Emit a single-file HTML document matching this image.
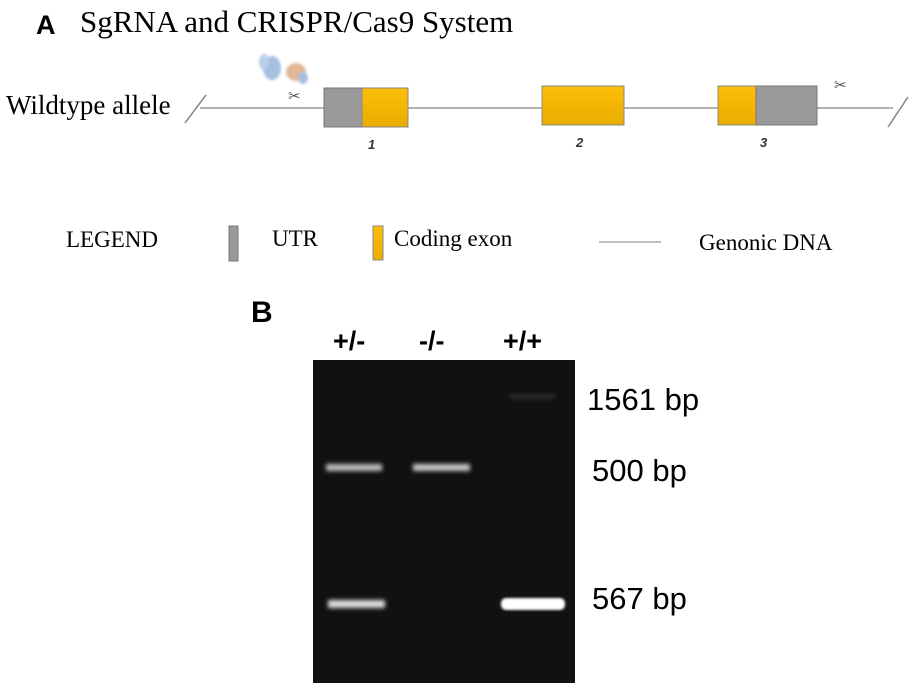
<!DOCTYPE html>
<html><head><style>
body{margin:0;background:#fff;width:914px;height:687px;overflow:hidden}
</style></head><body>
<svg width="914" height="687" xmlns="http://www.w3.org/2000/svg">
<defs>
<filter id="b1"><feGaussianBlur stdDeviation="2"/></filter>
<filter id="b2"><feGaussianBlur stdDeviation="1.2"/></filter>
<clipPath id="gel"><rect x="313" y="360" width="262" height="323"/></clipPath>
<linearGradient id="yg" x1="0" y1="0" x2="0" y2="1"><stop offset="0" stop-color="#fdbf08"/><stop offset="1" stop-color="#e9ad00"/></linearGradient>
</defs>
<text x="36" y="34" font-family="Liberation Sans, sans-serif" font-weight="bold" font-size="27">A</text>
<text x="80" y="32" font-family="Liberation Serif, serif" font-size="31">SgRNA and CRISPR/Cas9 System</text>
<text x="6" y="114" font-family="Liberation Serif, serif" font-size="27">Wildtype allele</text>
<line x1="200" y1="108" x2="893" y2="108" stroke="#999" stroke-width="1.5"/>
<line x1="185" y1="123" x2="206" y2="95" stroke="#888" stroke-width="1.5"/>
<line x1="888" y1="127" x2="908" y2="97" stroke="#888" stroke-width="1.5"/>
<rect x="324" y="88" width="38" height="39" fill="#9a9a9a" stroke="#777"/>
<rect x="362" y="88" width="46" height="39" fill="url(#yg)" stroke="#888"/>
<rect x="542" y="86" width="82" height="39" fill="url(#yg)" stroke="#888"/>
<rect x="718" y="86" width="38" height="39" fill="url(#yg)" stroke="#888"/>
<rect x="756" y="86" width="61" height="39" fill="#9a9a9a" stroke="#777"/>
<g font-family="Liberation Sans, sans-serif" font-style="italic" font-weight="bold" font-size="13" fill="#333">
<text x="368" y="149">1</text><text x="576" y="147">2</text><text x="760" y="147">3</text></g>
<g filter="url(#b2)" opacity="0.8"><ellipse cx="272" cy="68" rx="9" ry="12" fill="#8fb0d8"/><ellipse cx="264" cy="62" rx="5" ry="8" fill="#a8c2e6"/><ellipse cx="296" cy="72" rx="10" ry="9" fill="#d9a77e"/><ellipse cx="303" cy="78" rx="5" ry="6" fill="#8fb0d8"/></g>
<text x="288" y="101" font-family="DejaVu Sans, sans-serif" font-size="15" fill="#555">✂</text>
<text x="834" y="90" font-family="DejaVu Sans, sans-serif" font-size="15" fill="#555">✂</text>
<text x="66" y="247" font-family="Liberation Serif, serif" font-size="23">LEGEND</text>
<rect x="229" y="226" width="9" height="35" fill="#9a9a9a" stroke="#777"/>
<text x="272" y="246" font-family="Liberation Serif, serif" font-size="23">UTR</text>
<rect x="373" y="226" width="10" height="34" fill="url(#yg)" stroke="#888"/>
<text x="394" y="246" font-family="Liberation Serif, serif" font-size="23">Coding exon</text>
<line x1="599" y1="242" x2="661" y2="242" stroke="#aaa" stroke-width="1.5"/>
<text x="699" y="250" font-family="Liberation Serif, serif" font-size="23">Genonic DNA</text>
<text x="251" y="322" font-family="Liberation Sans, sans-serif" font-weight="bold" font-size="30">B</text>
<g font-family="Liberation Sans, sans-serif" font-weight="bold" font-size="27">
<text x="333" y="350">+/-</text><text x="419" y="350">-/-</text><text x="503" y="350">+/+</text></g>
<rect x="313" y="360" width="262" height="323" fill="#111"/>
<g clip-path="url(#gel)">
<g filter="url(#b1)">
<rect x="510" y="394" width="45" height="5" fill="#2a2a2a"/>
<rect x="326" y="464" width="56" height="7" fill="#bdbdbd"/>
<rect x="413" y="464" width="57" height="7" fill="#c8c8c8"/>
<rect x="328" y="600" width="57" height="8" fill="#dcdcdc"/>
</g>
<g filter="url(#b2)"><rect x="501" y="598" width="64" height="12" rx="5" fill="#fff"/></g>
</g>
<g font-family="Liberation Sans, sans-serif" font-size="31">
<text x="587" y="410">1561 bp</text><text x="592" y="481">500 bp</text><text x="592" y="609">567 bp</text></g>
</svg>
</body></html>
